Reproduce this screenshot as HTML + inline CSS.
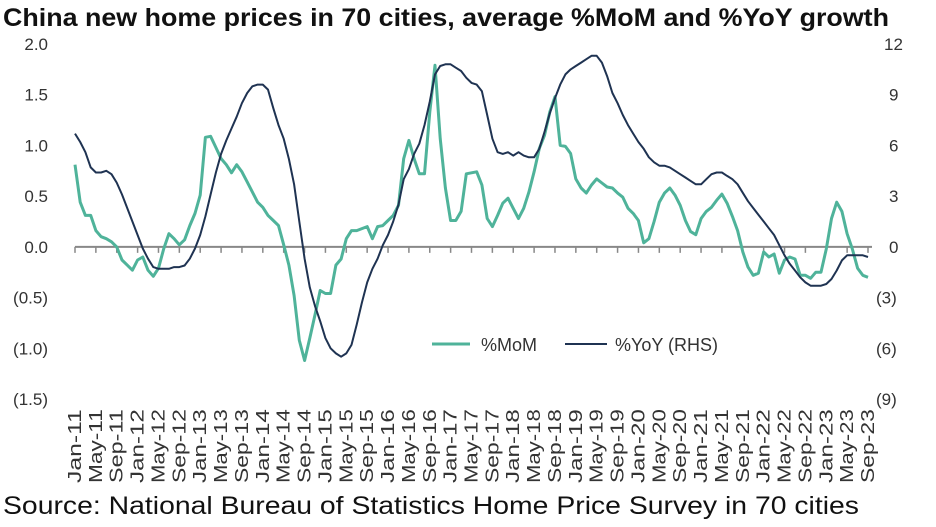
<!DOCTYPE html>
<html><head><meta charset="utf-8"><style>
body{margin:0;background:#fff;}
svg{display:block;font-family:"Liberation Sans",sans-serif;}
</style></head><body>
<svg id="chart" width="936" height="527" viewBox="0 0 936 527">
<text x="3" y="26" font-size="25" font-weight="bold" fill="#111" textLength="886" lengthAdjust="spacingAndGlyphs">China new home prices in 70 cities, average %MoM and %YoY growth</text>
<g id="lax"></g>
<g id="rax"></g>
<g id="xax"></g>
<g id="series"></g>
<g>
<line x1="432" y1="344" x2="470" y2="344" stroke="#4fb39a" stroke-width="3"/>
<text x="481" y="351" font-size="18" fill="#333">%MoM</text>
<line x1="565" y1="344" x2="607" y2="344" stroke="#1f3352" stroke-width="2"/>
<text x="615" y="351" font-size="18" fill="#333">%YoY (RHS)</text>
</g>
<text x="3" y="514" font-size="25" fill="#111" textLength="856" lengthAdjust="spacingAndGlyphs">Source: National Bureau of Statistics Home Price Survey in 70 cities</text>
</svg>
<script>
const leftTicks=[2.0,1.5,1.0,0.5,0.0,-0.5,-1.0,-1.5];
const leftTickLabels=["2.0","1.5","1.0","0.5","0.0","(0.5)","(1.0)","(1.5)"];
const rightTicks=[12,9,6,3,0,-3,-6,-9];
const rightTickLabels=["12","9","6","3","0","(3)","(6)","(9)"];
const monthNames=["Jan","May","Sep"];
const mom=[0.81,0.44,0.31,0.31,0.16,0.10,0.08,0.05,0.0,-0.13,-0.18,-0.23,-0.13,-0.10,-0.23,-0.29,-0.21,-0.02,0.13,0.08,0.02,0.07,0.21,0.33,0.51,1.08,1.09,0.98,0.87,0.81,0.73,0.81,0.74,0.64,0.54,0.44,0.39,0.31,0.26,0.21,0.02,-0.18,-0.48,-0.92,-1.12,-0.90,-0.67,-0.43,-0.46,-0.46,-0.18,-0.12,0.08,0.16,0.16,0.18,0.20,0.08,0.20,0.21,0.26,0.31,0.41,0.87,1.05,0.87,0.72,0.72,1.33,1.79,1.07,0.58,0.26,0.26,0.35,0.72,0.73,0.74,0.61,0.28,0.20,0.31,0.43,0.48,0.38,0.28,0.38,0.54,0.74,0.97,1.10,1.33,1.48,1.00,0.99,0.92,0.67,0.58,0.53,0.61,0.67,0.63,0.59,0.58,0.53,0.49,0.38,0.33,0.26,0.04,0.08,0.25,0.44,0.53,0.58,0.51,0.41,0.26,0.15,0.12,0.28,0.35,0.39,0.46,0.52,0.43,0.30,0.16,-0.05,-0.20,-0.28,-0.26,-0.05,-0.10,-0.07,-0.26,-0.13,-0.10,-0.12,-0.28,-0.28,-0.31,-0.25,-0.25,-0.02,0.28,0.44,0.35,0.13,-0.02,-0.21,-0.28,-0.30];
const yoy=[6.7,6.2,5.6,4.7,4.4,4.4,4.5,4.3,3.8,3.1,2.3,1.5,0.7,-0.1,-0.7,-1.2,-1.3,-1.3,-1.3,-1.2,-1.2,-1.1,-0.7,-0.1,0.7,1.8,3.1,4.4,5.5,6.3,7.0,7.7,8.5,9.1,9.5,9.6,9.6,9.3,8.2,7.2,6.4,5.2,3.7,1.5,-0.7,-2.4,-3.5,-4.4,-5.4,-6.0,-6.3,-6.5,-6.3,-5.8,-4.6,-3.3,-2.1,-1.3,-0.7,0.1,0.7,1.5,2.5,4.0,4.6,5.5,6.1,7.2,8.6,10.2,10.7,10.8,10.8,10.6,10.4,10.0,9.7,9.6,9.2,7.8,6.4,5.6,5.5,5.6,5.4,5.6,5.4,5.3,5.3,5.8,6.8,7.9,8.8,9.6,10.2,10.5,10.7,10.9,11.1,11.3,11.3,10.9,10.1,9.1,8.5,7.8,7.2,6.7,6.2,5.8,5.3,5.0,4.8,4.8,4.7,4.5,4.3,4.1,3.9,3.7,3.7,4.0,4.3,4.4,4.4,4.2,4.0,3.7,3.2,2.7,2.3,1.9,1.5,1.1,0.7,0.1,-0.5,-1.0,-1.4,-1.8,-2.1,-2.3,-2.3,-2.3,-2.2,-1.9,-1.4,-0.8,-0.5,-0.5,-0.5,-0.5,-0.6];
const NS="http://www.w3.org/2000/svg";
const x0=75,x1=868,yTop=44,yBot=399;
const n=mom.length;
function xs(i){return x0+(x1-x0)*i/(n-1);}
function yL(v){return yTop+(2.0-v)/(3.5)*(yBot-yTop);}
function yR(v){return yTop+(12-v)/21*(yBot-yTop);}
function mk(tag,attrs,parent){const e=document.createElementNS(NS,tag);for(const k in attrs)e.setAttribute(k,attrs[k]);parent.appendChild(e);return e;}
const lax=document.getElementById('lax'),rax=document.getElementById('rax'),xax=document.getElementById('xax'),ser=document.getElementById('series');
leftTicks.forEach((v,i)=>{const t=mk('text',{x:48,y:yL(v)+6,'text-anchor':'end','font-size':17,fill:'#333'},lax);t.textContent=leftTickLabels[i];

});
rightTicks.forEach((v,i)=>{const t=mk('text',{x:i>=5?876:(i==0?884:889),y:yR(v)+6,'text-anchor':'start','font-size':17,fill:'#333'},rax);t.textContent=rightTickLabels[i];

});
const zl=mk('line',{x1:x0,x2:x1+4,y1:yL(0),y2:yL(0),stroke:'#888','stroke-width':2},xax);


for(let i=0;i<n;i+=4){const x=xs(i);
const tk=mk('line',{x1:x,x2:x,y1:yL(0),y2:yL(0)+6,stroke:'#888','stroke-width':1.5},xax);


const yr=11+Math.floor(i/12);const lab=monthNames[(i%12)/4]+'-'+yr;
const t=mk('text',{x:0,y:0,transform:`translate(${x+6},483) rotate(-90)`,'text-anchor':'start','font-size':18,fill:'#333',textLength:lab.length*12.3,lengthAdjust:'spacingAndGlyphs'},xax);t.textContent=lab;

}
const pm=mk('polyline',{points:mom.map((v,i)=>xs(i).toFixed(1)+','+yL(v).toFixed(1)).join(' '),fill:'none',stroke:'#4fb39a','stroke-width':3,'stroke-linejoin':'round'},ser);


const py=mk('polyline',{points:yoy.map((v,i)=>xs(i).toFixed(1)+','+yR(v).toFixed(1)).join(' '),fill:'none',stroke:'#1f3352','stroke-width':2,'stroke-linejoin':'round'},ser);


</script>
</body></html>
